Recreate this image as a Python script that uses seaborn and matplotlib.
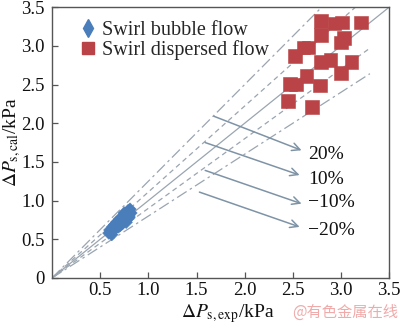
import matplotlib
matplotlib.use("Agg")
import matplotlib.pyplot as plt
from matplotlib.lines import Line2D
import numpy as np
import pandas as pd
import seaborn as sns

# Measured vs calculated swirl pressure drop (kPa)
bubble_exp = [0.59, 0.60, 0.62, 0.63, 0.64, 0.65, 0.66, 0.68, 0.69, 0.70, 0.71,
              0.72, 0.73, 0.74, 0.75, 0.76, 0.77, 0.78, 0.79, 0.80, 0.81, 0.82,
              0.80, 0.62, 0.67, 0.72, 0.77, 0.70, 0.75]
bubble_cal = [0.58, 0.62, 0.60, 0.66, 0.62, 0.69, 0.64, 0.71, 0.66, 0.72, 0.68,
              0.75, 0.70, 0.77, 0.73, 0.80, 0.76, 0.83, 0.87, 0.78, 0.89, 0.84,
              0.80, 0.56, 0.72, 0.78, 0.72, 0.76, 0.84]

dispersed_exp = [2.79, 2.93, 3.01, 3.21, 2.79, 3.03, 3.00, 2.61, 2.66, 2.52,
                 2.79, 2.89, 3.11, 3.00, 2.64, 2.47, 2.53, 2.78, 2.45, 2.70]
dispersed_cal = [3.32, 3.29, 3.30, 3.30, 3.14, 3.10, 3.04, 2.98, 2.98, 2.87,
                 2.79, 2.82, 2.79, 2.65, 2.61, 2.51, 2.50, 2.49, 2.29, 2.21]

regimes = ["Swirl bubble flow", "Swirl dispersed flow"]

# Error bands: calculated = exp / (1 - e) above the diagonal, exp * (1 - e) below
band_labels = ["20%", "10%", "\u221210%", "\u221220%"]
band_slopes = [1 / 0.8, 1 / 0.9, 1.0, 0.9, 0.8]

x_ticks = [0.5, 1.0, 1.5, 2.0, 2.5, 3.0, 3.5]
y_ticks = [0, 0.5, 1.0, 1.5, 2.0, 2.5, 3.0, 3.5]
y_tick_labels = ["0", "0.5", "1.0", "1.5", "2.0", "2.5", "3.0", "3.5"]

df = pd.DataFrame({
    "exp": bubble_exp + dispersed_exp,
    "cal": bubble_cal + dispersed_cal,
    "regime": [regimes[0]] * len(bubble_exp) + [regimes[1]] * len(dispersed_exp),
})

sns.set_style("ticks")
plt.rcParams["font.family"] = ["Liberation Serif", "Noto Sans CJK SC"]
plt.rcParams["mathtext.fontset"] = "stix"

fig = plt.figure(figsize=(4.0, 3.24), dpi=100)
ax = fig.add_axes([0.13, 0.142, 0.843, 0.836])

line_color = "#9aa5b0"
styles = [(0, (9, 3, 2, 3)), (0, (4, 3)), "-", (0, (4, 3)), (0, (9, 3, 2, 3))]
for slope, ls in zip(band_slopes, styles):
    xe = 3.5 if slope == 1.0 else 3.3
    xs = np.array([0.0, xe])
    ax.plot(xs, slope * xs, color=line_color, lw=0.9, ls=ls, zorder=1)

sns.scatterplot(
    data=df, x="exp", y="cal", hue="regime", style="regime",
    palette={regimes[0]: "#4a7ebb", regimes[1]: "#b94346"},
    markers={regimes[0]: "D", regimes[1]: "s"},
    size="regime", sizes={regimes[0]: 40, regimes[1]: 95},
    edgecolor="face", linewidth=0.4, ax=ax, zorder=3, legend=False,
)

# Arrows pointing from each band to its label
arrow_starts = [(1.68, 2.09), (1.59, 1.75), (1.59, 1.39), (1.53, 1.11)]
arrow_ends = [(2.59, 1.65), (2.57, 1.33), (2.59, 0.96), (2.57, 0.66)]
label_y = [1.60, 1.27, 0.975, 0.62]
for (x0, y0), (x1, y1), lab, ly in zip(arrow_starts, arrow_ends, band_labels, label_y):
    ax.annotate("", xy=(x1, y1), xytext=(x0, y0),
                arrowprops=dict(arrowstyle="->", color="#7e93a6", lw=1.1,
                                mutation_scale=14, shrinkA=0, shrinkB=0))
    ax.text(2.66, ly, lab, fontsize=14, va="center", ha="left", color="#111111")

# Legend
handles = [
    Line2D([], [], ls="none", marker="d", ms=9, color="#4a7ebb", mec="#4a7ebb"),
    Line2D([], [], ls="none", marker="s", ms=8, color="#b94346", mec="#b94346"),
]
ax.legend(handles, regimes, loc="upper left", bbox_to_anchor=(0.04, 0.995),
          frameon=False, fontsize=14.5, handletextpad=0.2, labelspacing=0.0,
          handlelength=1.0, borderaxespad=0.2)

ax.set_xlim(0, 3.5)
ax.set_ylim(0, 3.5)
ax.set_xticks(x_ticks)
ax.set_xticklabels([f"{t:.1f}" for t in x_ticks])
ax.set_yticks(y_ticks)
ax.set_yticklabels(y_tick_labels)
ax.tick_params(direction="in", length=4, width=0.9, color="#555555",
               labelsize=13.5, labelcolor="#111111")
ax.tick_params(axis="x", pad=3)
ax.tick_params(axis="y", pad=5)
for sp in ax.spines.values():
    sp.set_visible(True)
    sp.set_color("#555555")
    sp.set_linewidth(1.0)

ax.set_xlabel(r"$\Delta P_{\rm s,exp}$/kPa", fontsize=14, color="#111111")
ax.set_ylabel(r"$\Delta P_{\rm s,cal}$/kPa", fontsize=14, color="#111111")
ax.xaxis.set_label_coords(0.52, -0.09)
ax.yaxis.set_label_coords(-0.085, 0.5)

fig.text(0.995, 0.037, "@有色金属在线", ha="right", va="center", fontsize=11,
         color="#f0aaaa", family=["Noto Sans CJK SC"])

fig.savefig("out.png", dpi=100)
